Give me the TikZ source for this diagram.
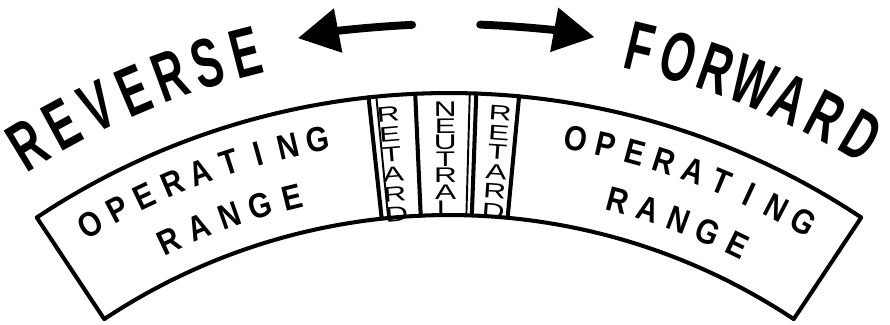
\documentclass[tikz,border=0pt]{standalone}
\usepackage{fontspec}
\setmainfont{Liberation Sans}
\newfontfamily\bigfont[FakeStretch=0.63]{Liberation Sans}
\newfontfamily\rangefont[FakeStretch=0.85]{Liberation Sans}
\newfontfamily\widefont[FakeStretch=1.5]{Liberation Sans}
\usetikzlibrary{arrows.meta}

\tikzset{
  bandline/.style={line width=2.3pt},
  divthick/.style={line width=2.3pt},
  divthin/.style={line width=1.1pt},
  bigword/.style={anchor=base, inner sep=0pt, text height=28pt, text depth=0pt, font=\bigfont\bfseries\fontsize{39.6}{40}\selectfont},
  rangeword/.style={anchor=base, inner sep=0pt, text height=14pt, text depth=0pt, font=\rangefont\bfseries\fontsize{19.8}{20}\selectfont},
  colletter/.style={inner sep=0pt, text height=9pt, text depth=0pt, font=\widefont\fontsize{12}{12}\selectfont},
  bigarrow/.style={line width=4.5pt, -{Triangle[length=0.82cm, width=0.86cm]}}
}

\begin{document}
\begin{tikzpicture}[line cap=round, line join=round]
\useasboundingbox (-8.98,10.26) rectangle (8.82,16.76);

\draw[bandline] (123.6:14.9) arc[start angle=123.6, end angle=56.4, radius=14.9cm]
  -- (56.4:12.46) arc[start angle=56.4, end angle=123.6, radius=12.46cm] -- cycle;

\draw[divthick] (96.2:12.46) -- (96.2:14.9);
\draw[divthin] (95.6:12.46) -- (95.6:14.9);
\draw[divthick] (92.6:12.46) -- (92.6:14.9);
\draw[divthin] (88.4:12.46) -- (88.4:14.9);
\draw[divthick] (87.9:12.46) -- (87.9:14.9);
\draw[divthick] (84.6:12.46) -- (84.6:14.9);

\foreach \ch [count=\i] in {R,E,T,A,R,D}
  \node[colletter, rotate=4.8] (retl\i) at (94.8:{14.54-0.4*(\i-1)}) {\ch};
\foreach \ch [count=\i] in {N,E,U,T,R,A,L}
  \node[colletter, rotate=0.3] (neut\i) at (90.3:{14.58-0.33*(\i-1)}) {\ch};
\foreach \ch [count=\i] in {R,E,T,A,R,D}
  \node[colletter, rotate=-4.05] (retr\i) at (85.95:{14.54-0.39*(\i-1)}) {\ch};

\foreach \ch [count=\i] in {O,P,E,R,A,T,I,N,G}
  \node[rangeword, rotate={30.3-2.46*(\i-1)}] (opl\i) at ({120.3-2.46*(\i-1)}:13.97) {\ch};
\foreach \ch [count=\i] in {R,A,N,G,E}
  \node[rangeword, rotate={25.1-2.83*(\i-1)}] (rgl\i) at ({115.1-2.83*(\i-1)}:12.95) {\ch};
\foreach \ch [count=\i] in {O,P,E,R,A,T,I,N,G}
  \node[rangeword, rotate={-10.3-2.45*(\i-1)}] (opr\i) at ({79.7-2.45*(\i-1)}:13.97) {\ch};
\foreach \ch [count=\i] in {R,A,N,G,E}
  \node[rangeword, rotate={-14.8-2.78*(\i-1)}] (rgr\i) at ({75.2-2.78*(\i-1)}:12.95) {\ch};

\foreach \ch [count=\i] in {R,E,V,E,R,S,E}
  \node[bigword, rotate={31.3-2.8*(\i-1)}] (rev\i) at ({121.3-2.8*(\i-1)}:15.75) {\ch};
\foreach \ch [count=\i] in {F,O,R,W,A,R,D}
  \node[bigword, rotate={-13.6-2.8*(\i-1)}] (fwd\i) at ({76.4-2.8*(\i-1)}:15.8) {\ch};

\coordinate (revtail) at (92.6:16.28);
\coordinate (fwdtail) at (87.8:16.28);
\draw[bigarrow] (revtail) arc[start angle=92.6, end angle=100.7, radius=16.28cm];
\draw[bigarrow] (fwdtail) arc[start angle=87.8, end angle=79.7, radius=16.28cm];
\end{tikzpicture}
\end{document}
